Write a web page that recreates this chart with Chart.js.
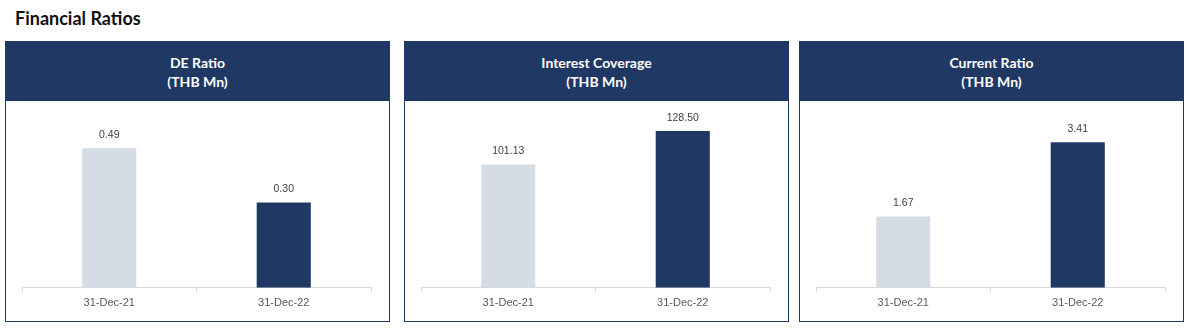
<!DOCTYPE html>
<html>
<head>
<meta charset="utf-8">
<script src="https://cdn.jsdelivr.net/npm/chart.js@4"></script>
<style>
  body { margin: 0; width: 1191px; height: 336px; background: #fff; position: relative; overflow: hidden; }
  .page-title { position: absolute; left: 15px; top: 7px; font: bold 18px Lato, "Open Sans", sans-serif; color: #111; }
  .panel { position: absolute; top: 41px; height: 281px; width: 385px; box-sizing: border-box; border: 1px solid #203864; }
  .panel-head { height: 59px; background: #203864; color: #fff; font: bold 14px Lato, "Open Sans", sans-serif;
    line-height: 19px; text-align: center; display: flex; flex-direction: column; justify-content: center; }
  .panel-body { position: relative; height: 220px; }
</style>
</head>
<body>
<div class="page-title">Financial Ratios</div>
<div id="panels"></div>
<script>
const categories = ['31-Dec-21', '31-Dec-22'];
const deRatio = [0.49, 0.30];
const interestCoverage = [101.13, 128.50];
const currentRatio = [1.67, 3.41];
const panelTitles = ['DE Ratio', 'Interest Coverage', 'Current Ratio'];
const panelUnits = ['(THB Mn)', '(THB Mn)', '(THB Mn)'];
const axisMax = [0.6, 140, 4];
const barColors = ['#D6DCE5', '#203864'];

const panelLeft = [5, 404, 799];
const series = [deRatio, interestCoverage, currentRatio];

// writes the value above each bar
const valueLabels = {
  id: 'valueLabels',
  afterDatasetsDraw(chart) {
    const ctx = chart.ctx;
    const meta = chart.getDatasetMeta(0);
    const data = chart.data.datasets[0].data;
    ctx.save();
    ctx.font = '10.5px "Liberation Sans", Arial, sans-serif';
    ctx.fillStyle = '#404040';
    ctx.textAlign = 'center';
    ctx.textBaseline = 'middle';
    meta.data.forEach((bar, i) => {
      ctx.fillText(data[i].toFixed(2), bar.x, bar.y - 13);
    });
    ctx.restore();
  }
};

const holder = document.getElementById('panels');
series.forEach((values, idx) => {
  const panel = document.createElement('div');
  panel.className = 'panel';
  panel.style.left = panelLeft[idx] + 'px';
  panel.innerHTML = '<div class="panel-head"><div>' + panelTitles[idx] + '</div><div>' + panelUnits[idx] +
    '</div></div><div class="panel-body"><canvas></canvas></div>';
  holder.appendChild(panel);
  const canvas = panel.querySelector('canvas');

  new Chart(canvas, {
    type: 'bar',
    data: {
      labels: categories,
      datasets: [{
        data: values,
        backgroundColor: barColors,
        categoryPercentage: 1,
        barPercentage: 0.31
      }]
    },
    options: {
      responsive: true,
      maintainAspectRatio: false,
      animation: false,
      layout: { padding: { left: 16, right: 18, top: 16, bottom: 6 } },
      plugins: { legend: { display: false }, tooltip: { enabled: false } },
      scales: {
        x: {
          grid: { offset: true, drawOnChartArea: false, tickLength: 4, color: '#D9D9D9' },
          border: { color: '#D9D9D9' },
          ticks: { color: '#595959', padding: 5, font: { family: '"Liberation Sans", Arial, sans-serif', size: 11 } }
        },
        y: { display: false, min: 0, max: axisMax[idx] }
      }
    },
    plugins: [valueLabels]
  });
});
</script>
</body>
</html>
